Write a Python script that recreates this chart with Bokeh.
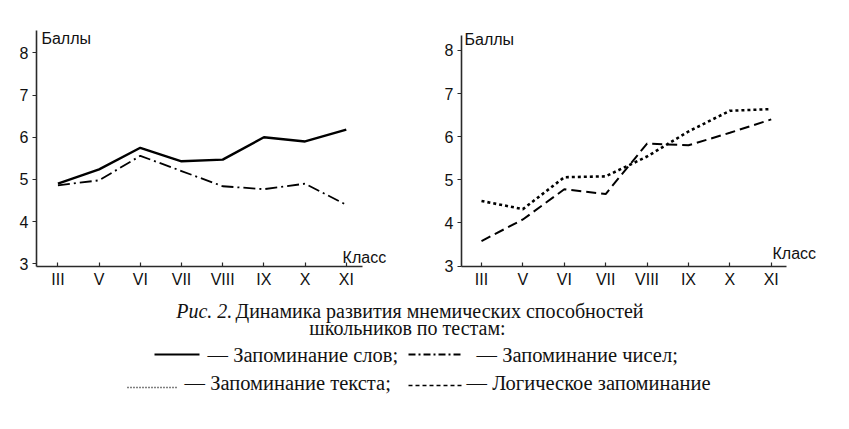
from bokeh.plotting import figure
from bokeh.models import Range1d, FixedTicker, Label
from bokeh.layouts import column, row
from bokeh.embed import file_html
from bokeh.resources import INLINE

# ---- data ----
classes = ["III", "V", "VI", "VII", "VIII", "IX", "X", "XI"]
y_ticks = [3, 4, 5, 6, 7, 8]
words = [4.90, 5.24, 5.75, 5.43, 5.47, 6.00, 5.90, 6.18]      # Запоминание слов
numbers = [4.86, 4.98, 5.56, 5.20, 4.84, 4.77, 4.90, 4.40]    # Запоминание чисел
text_mem = [4.51, 4.32, 5.06, 5.08, 5.54, 6.12, 6.60, 6.64]   # Запоминание текста
logic = [3.58, 4.08, 4.78, 4.67, 5.84, 5.80, 6.09, 6.40]      # Логическое запоминание

xs = list(range(len(classes)))

SANS = "Liberation Sans"
SERIF = "Liberation Serif"
AX = "#2a2a2a"


def make_chart(w, h, xr, x_axis_end, yr, y_axis_end, bl, bt, br, bb, klass_xy, bally_xy):
    p = figure(width=w, height=h, x_range=Range1d(*xr), y_range=Range1d(*yr),
               output_backend="svg", toolbar_location=None,
               min_border_left=bl, min_border_top=bt, min_border_right=br, min_border_bottom=bb)
    p.outline_line_color = None
    p.grid.visible = False
    p.background_fill_color = "white"
    p.border_fill_color = "white"
    p.xaxis.ticker = FixedTicker(ticks=xs)
    p.xaxis.major_label_overrides = {i: c for i, c in zip(xs, classes)}
    p.xaxis.bounds = (xr[0], x_axis_end)
    p.yaxis.ticker = FixedTicker(ticks=y_ticks)
    p.yaxis.bounds = (yr[0], y_axis_end)
    for ax in (p.xaxis, p.yaxis):
        ax.axis_line_color = AX
        ax.axis_line_width = 1.6
        ax.major_tick_line_color = AX
        ax.major_tick_line_width = 1.2
        ax.minor_tick_line_color = None
        ax.major_label_text_font = SANS
        ax.major_label_text_font_size = "16px"
        ax.major_label_text_color = "#111111"
    p.xaxis.major_tick_in = 4
    p.xaxis.major_tick_out = 0
    p.xaxis.major_label_standoff = 4
    p.yaxis.major_tick_in = 0
    p.yaxis.major_tick_out = 4
    p.yaxis.major_label_standoff = 4
    p.add_layout(Label(x=klass_xy[0], y=klass_xy[1], text="Класс", text_font=SANS,
                       text_font_size="16px", text_color="#111111", text_baseline="alphabetic"))
    p.add_layout(Label(x=bally_xy[0], y=bally_xy[1], text="Баллы", text_font=SANS,
                       text_font_size="16px", text_color="#111111", text_baseline="alphabetic"))
    return p


# both plots in the row share top border 21, frame height 246, bottom border 23
p1 = make_chart(420, 290, (-0.52, 8.51), 7.4, (2.94, 8.74), 8.53, 36, 21, 12, 23,
                (6.91, 3.16), (-0.40, 8.33))
p1.line(xs, words, line_color="black", line_width=2.4)
p1.line(xs, numbers, line_color="black", line_width=1.8, line_dash="12 4 2 4")

p2 = make_chart(413, 290, (-0.483, 8.48), 7.37, (2.99, 8.67), 8.35, 41, 21, 1, 23,
                (7.03, 3.28), (-0.41, 8.25))
p2.line(xs, text_mem, line_color="black", line_width=2.6, line_dash="3 3")
p2.line(xs, logic, line_color="black", line_width=2.0, line_dash="10 5")

# ---- caption & legend ----
W, H = 833, 121
p3 = figure(width=W, height=H, x_range=Range1d(0, W), y_range=Range1d(H, 0),
            output_backend="svg", toolbar_location=None, x_axis_type=None, y_axis_type=None,
            min_border=0)
p3.outline_line_color = None
p3.grid.visible = False

OX, OY = 1, 298


def cap(x, y, t, size="20px", style="normal", align="left"):
    p3.add_layout(Label(x=x - OX, y=y - OY, text=t, text_font=SERIF, text_font_size=size,
                        text_font_style=style, text_align=align, text_baseline="alphabetic",
                        text_color="#111111"))


cap(176.7, 318, "Рис. 2.", style="italic")
cap(236, 318, "Динамика развития мнемических способностей")
cap(408, 335, "школьников по тестам:", align="center")
cap(208, 362, "— Запоминание слов;", size="20.5px")
cap(477, 362, "— Запоминание чисел;", size="20.5px")
cap(185, 390, "— Запоминание текста;", size="20.5px")
cap(467, 390, "— Логическое запоминание", size="20.5px")


def sample(x0, x1, y, dash, width):
    p3.line([x0 - OX, x1 - OX], [y - OY, y - OY], line_color="black", line_width=width,
            line_dash=dash)


sample(155, 200, 362, "solid", 2.2)
sample(409, 461, 362, "7 3 2 3", 1.8)
sample(128, 178, 395, "1 2", 1.3)
sample(409, 462, 393, "4 3", 1.6)

layout = column(row(p1, p2), p3)
open("out.html", "w").write(file_html(layout, INLINE))
